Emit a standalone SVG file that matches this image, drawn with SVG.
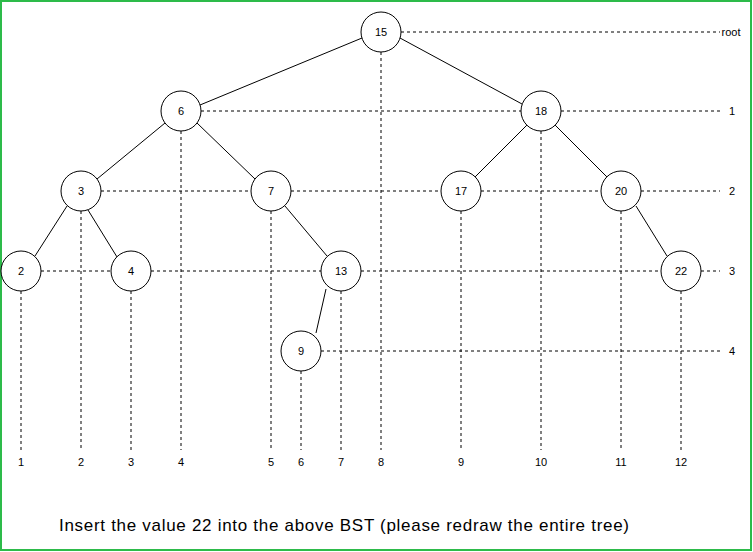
<svg xmlns="http://www.w3.org/2000/svg" width="753" height="552" viewBox="0 0 753 552">
<style>
.n circle{fill:#fff;stroke:#000;stroke-width:1}
text{font-family:"Liberation Sans",Arial,sans-serif;font-size:11px;fill:#000}
.n text{text-anchor:middle;dominant-baseline:central}
.e{stroke:#000;stroke-width:1;fill:none}
.d{stroke:#000;stroke-width:1;stroke-dasharray:3,3;fill:none}
.lb{text-anchor:middle;dominant-baseline:central}
</style>
<rect x="1" y="1" width="750" height="549" fill="#fff" stroke="#2dbb4a" stroke-width="2"/>
<g id="connectors">
<g id="guides">
<path class="d" d="M401 32H720M201 111H521M561 111H720M101 191H251M291 191H441M481 191H601M641 191H720M41 271H111M151 271H321M361 271H661M701 271H720M321 351H720"/>
<path class="d" d="M21 291V450M81 211V450M131 291V450M181 131V450M271 211V450M301 371V450M341 291V450M381 52V450M461 211V450M541 131V450M621 211V450M681 291V450"/>
</g>
<g id="edges">
<line class="e" x1="362" y1="38" x2="200" y2="105"/>
<line class="e" x1="400" y1="38" x2="522" y2="104"/>
<line class="e" x1="165" y1="123" x2="97" y2="179"/>
<line class="e" x1="197" y1="123" x2="255" y2="179"/>
<line class="e" x1="527" y1="125" x2="475" y2="177"/>
<line class="e" x1="555" y1="125" x2="607" y2="177"/>
<line class="e" x1="67" y1="206" x2="35" y2="256"/>
<line class="e" x1="88" y1="210" x2="117" y2="257"/>
<line class="e" x1="285" y1="206" x2="327" y2="256"/>
<line class="e" x1="326" y1="289" x2="316" y2="333"/>
<line class="e" x1="636" y1="206" x2="667" y2="256"/>
</g>
</g>
<g id="n15" class="n"><circle cx="381" cy="32" r="20"/><text x="381" y="32">15</text></g>
<g id="n6" class="n"><circle cx="181" cy="111" r="20"/><text x="181" y="111">6</text></g>
<g id="n18" class="n"><circle cx="541" cy="111" r="20"/><text x="541" y="111">18</text></g>
<g id="n3" class="n"><circle cx="81" cy="191" r="20"/><text x="81" y="191">3</text></g>
<g id="n7" class="n"><circle cx="271" cy="191" r="20"/><text x="271" y="191">7</text></g>
<g id="n17" class="n"><circle cx="461" cy="191" r="20"/><text x="461" y="191">17</text></g>
<g id="n20" class="n"><circle cx="621" cy="191" r="20"/><text x="621" y="191">20</text></g>
<g id="n2" class="n"><circle cx="21" cy="271" r="20"/><text x="21" y="271">2</text></g>
<g id="n4" class="n"><circle cx="131" cy="271" r="20"/><text x="131" y="271">4</text></g>
<g id="n13" class="n"><circle cx="341" cy="271" r="20"/><text x="341" y="271">13</text></g>
<g id="n22" class="n"><circle cx="681" cy="271" r="20"/><text x="681" y="271">22</text></g>
<g id="n9" class="n"><circle cx="301" cy="351" r="20"/><text x="301" y="351">9</text></g>
<g id="labels">
<text class="lb" x="731" y="32">root</text>
<text class="lb" x="732" y="111">1</text>
<text class="lb" x="732" y="191">2</text>
<text class="lb" x="732" y="271">3</text>
<text class="lb" x="732" y="351">4</text>
<text class="lb" x="21" y="462">1</text>
<text class="lb" x="81" y="462">2</text>
<text class="lb" x="131" y="462">3</text>
<text class="lb" x="181" y="462">4</text>
<text class="lb" x="271" y="462">5</text>
<text class="lb" x="301" y="462">6</text>
<text class="lb" x="341" y="462">7</text>
<text class="lb" x="381" y="462">8</text>
<text class="lb" x="461" y="462">9</text>
<text class="lb" x="541" y="462">10</text>
<text class="lb" x="621" y="462">11</text>
<text class="lb" x="681" y="462">12</text>
<text x="59" y="531" style="font-size:17px" textLength="570">Insert the value 22 into the above BST (please redraw the entire tree)</text>
</g>
</svg>
